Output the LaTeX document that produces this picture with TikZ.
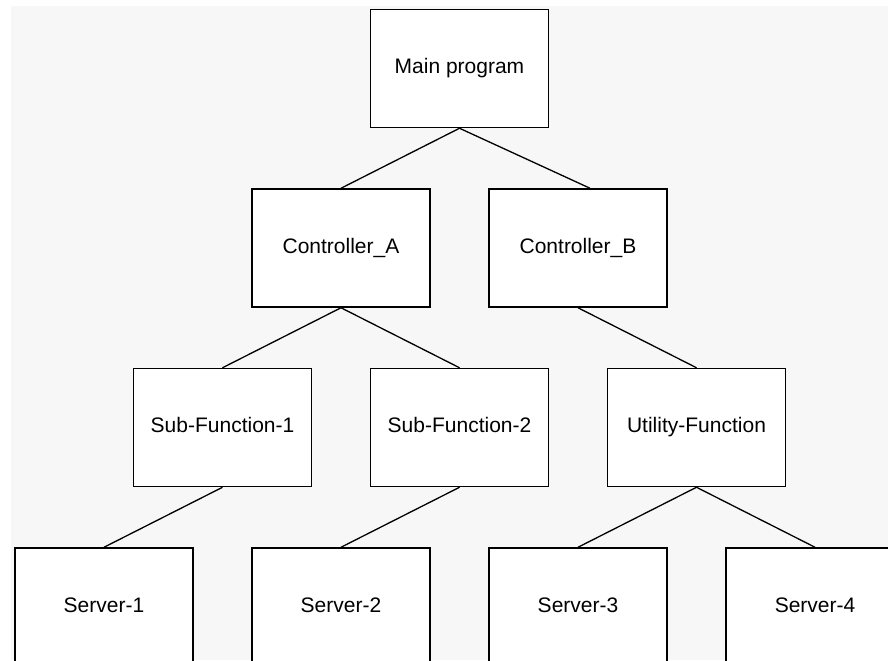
\documentclass[tikz,border=0pt]{standalone}
\usepackage{fontspec}
\setmainfont{Liberation Sans}
\usetikzlibrary{positioning}
\definecolor{bggray}{RGB}{247,247,247}
\tikzset{
    block/.style={rectangle, draw=black, fill=white, text centered, minimum height=59pt, minimum width=89pt, font=\fontsize{10.5}{12}\selectfont, text height=7.5pt, text depth=2.2pt, inner sep=0pt, line width=0.75pt},
    link/.style={line width=0.65pt}
}
\begin{document}
\begin{tikzpicture}[node distance=30pt]
    \useasboundingbox (0,0) rectangle (444pt,-330pt);
    \fill [bggray] (5.5pt,-3pt) rectangle (444pt,-330pt);

    \node (main) [block] at (229.75pt,-34.25pt) {Main program};

    \node (ctrl_a) [block, below=of main, xshift=-59.25pt] {Controller\_A};
    \node (ctrl_b) [block, below=of main, xshift=59.25pt] {Controller\_B};

    \node (sub_one) [block, below=of ctrl_a, xshift=-59.25pt] {Sub-Function-1};
    \node (sub_two) [block, below=of ctrl_a, xshift=59.25pt] {Sub-Function-2};
    \node (util) [block, below=of ctrl_b, xshift=59.25pt] {Utility-Function};

    \node (server_one) [block, below=of sub_one, xshift=-59.25pt] {Server-1};
    \node (server_two) [block, below=of sub_two, xshift=-59.25pt] {Server-2};
    \node (server_three) [block, below=of util, xshift=-59.25pt] {Server-3};
    \node (server_four) [block, below=of util, xshift=59.25pt] {Server-4};

    \draw [link] (main.south) -- (ctrl_a.north);
    \draw [link] (main.south) -- ([xshift=6pt]ctrl_b.north);
    \draw [link] (ctrl_a.south) -- (sub_one.north);
    \draw [link] (ctrl_a.south) -- (sub_two.north);
    \draw [link] (ctrl_b.south) -- (util.north);
    \draw [link] (sub_one.south) -- (server_one.north);
    \draw [link] (sub_two.south) -- (server_two.north);
    \draw [link] (util.south) -- (server_three.north);
    \draw [link] (util.south) -- (server_four.north);
\end{tikzpicture}
\end{document}
